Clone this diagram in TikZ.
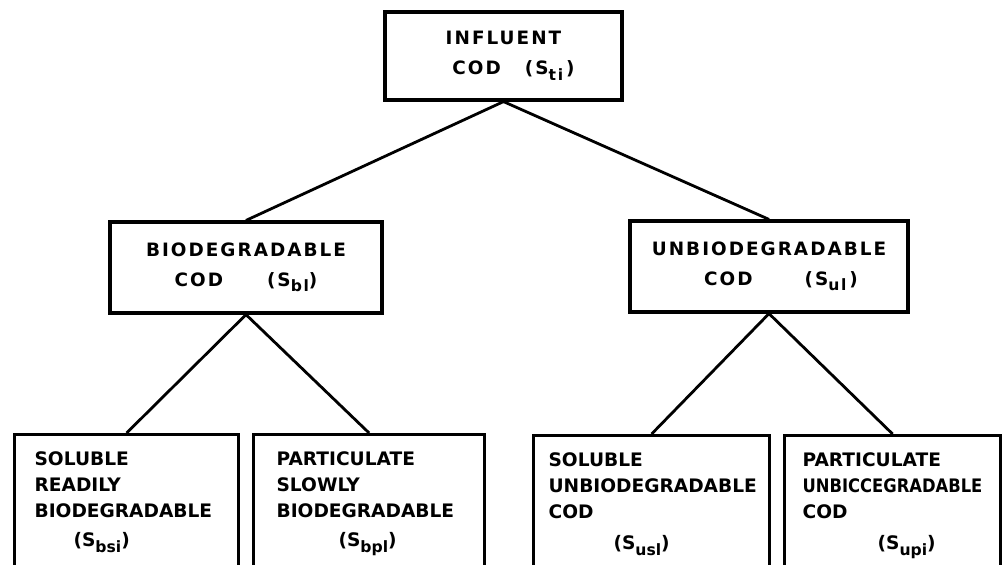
\documentclass[tikz,border=0pt]{standalone}
\usepackage{fontspec}
\usepackage{graphicx}
\setmainfont{DejaVu Sans}
\newfontfamily\widefont[LetterSpace=11]{DejaVu Sans}
\usetikzlibrary{positioning}
\newcommand{\codsub}[1]{\raisebox{-0.55ex}{\fontsize{7.8}{8}\selectfont #1}}

\begin{document}
\begin{tikzpicture}[x=0.5pt, y=-0.5pt,
    upbox/.style={draw, line width=1.6pt, align=center, minimum height=45.5pt, font=\widefont\bfseries\fontsize{9.2}{15}\selectfont},
    leafbox/.style={draw, line width=1.6pt, anchor=north west, align=left, inner ysep=8.75pt, text depth=70pt, font=\bfseries\fontsize{9.3}{13}\selectfont},
    link/.style={line width=1.4pt},
  ]
  \useasboundingbox (0,0) rectangle (1003,564);

  % upper levels
  \node[upbox, minimum width=118.5pt, minimum height=44pt] (infl) at (503.5,56) {INFLUENT\\\hspace*{10pt}COD\hspace{12pt}(S\codsub{ti}\,)};
  \node[upbox, minimum width=136pt] (bio)   at (246,267.5) {BIODEGRADABLE\\COD\hspace{22pt}(S\codsub{bl})};
  \node[upbox, minimum width=139pt] (unbio) at (769,266.5) {UNBIODEGRADABLE\\\hspace*{12pt}COD\hspace{26pt}(S\codsub{ul}\,)};

  % fractions
  \node[leafbox, text width=92pt, inner xsep=10pt]    (sbs) at (13,433)  {SOLUBLE\\READILY\\BIODEGRADABLE\\[1.5pt]\hspace*{19.5pt}(S\codsub{bsi})};
  \node[leafbox, text width=92.5pt, inner xsep=11.5pt] (sbp) at (252,433) {PARTICULATE\\SLOWLY\\BIODEGRADABLE\\[1.5pt]\hspace*{31pt}(S\codsub{bpl})};
  \node[leafbox, text width=103pt, inner xsep=7.5pt]  (sus) at (532,434) {SOLUBLE\\UNBIODEGRADABLE\\COD\\[2.5pt]\hspace*{32.5pt}(S\codsub{usl})};
  \node[leafbox, text width=90pt, inner xsep=9pt]     (sup) at (783,434) {PARTICULATE\\\scalebox{0.88}[1]{UNBICCEGRADABLE}\\COD\\[2.5pt]\hspace*{37.5pt}(S\codsub{upi})};

  \draw[link] (infl.south) -- (bio.north);
  \draw[link] (infl.south) -- (unbio.north);
  \draw[link] (bio.south) -- (sbs.north);
  \draw[link] (bio.south) -- (sbp.north);
  \draw[link] (unbio.south) -- (sus.north);
  \draw[link] (unbio.south) -- (sup.north);
\end{tikzpicture}
\end{document}
